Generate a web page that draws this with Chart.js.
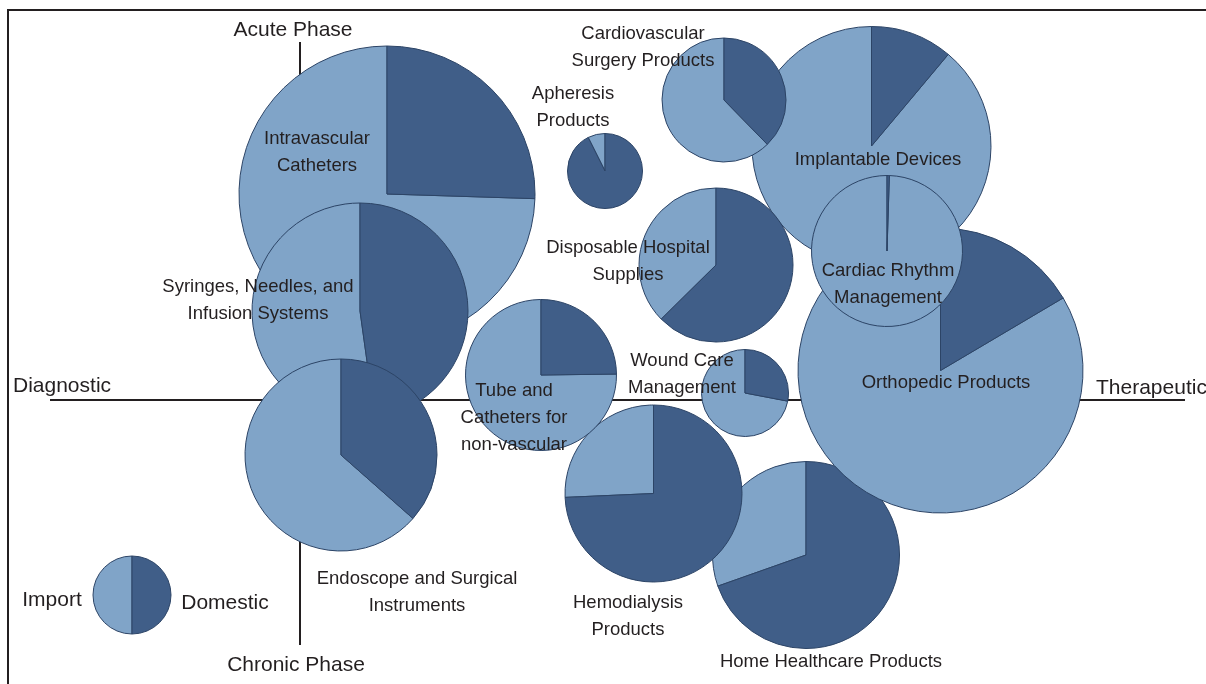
<!DOCTYPE html>
<html lang="en">
<head>
<meta charset="utf-8">
<title>Medical devices · import vs domestic</title>
<script src="https://cdn.jsdelivr.net/npm/chart.js@4.4.1/dist/chart.umd.min.js"></script>
<style>
  html, body { margin: 0; padding: 0; background: #fff; }
  .wrap { position: relative; width: 1206px; height: 684px; overflow: hidden; }
  .frame {
    position: absolute; left: 7px; top: 9px; right: -10px; bottom: -10px;
    border-top: 2px solid #231f20; border-left: 2px solid #231f20;
    pointer-events: none;
  }
  canvas { display: block; }
</style>
</head>
<body>
<div class="wrap">
  <canvas id="chart" width="1206" height="684"></canvas>
  <div class="frame"></div>
</div>
<script>
/* ---------- datos: posición (diagnóstico → terapéutico, crónico → agudo),
   tamaño del mercado (radio) y participación doméstica ---------- */
const categories = [
  "Intravascular Catheters",
  "Syringes, Needles, and Infusion Systems",
  "Endoscope and Surgical Instruments",
  "Tube and Catheters for non-vascular",
  "Apheresis Products",
  "Cardiovascular Surgery Products",
  "Disposable Hospital Supplies",
  "Wound Care Management",
  "Hemodialysis Products",
  "Home Healthcare Products",
  "Implantable Devices",
  "Cardiac Rhythm Management",
  "Orthopedic Products",
];
const posX = [0.87, 0.60, 0.41, 2.41, 3.05, 4.24, 4.16, 4.45, 3.535, 5.06, 5.715, 5.87, 6.405];
const posY = [2.06, 0.89, -0.55, 0.25, 2.29, 3.00, 1.35, 0.07, -0.935, -1.55, 2.54, 1.49, 0.295];
const marketSize = [1.48, 1.08, 0.96, 0.755, 0.375, 0.62, 0.77, 0.435, 0.885, 0.935, 1.195, 0.755, 1.425];
const domesticShare = [0.255, 0.478, 0.365, 0.248, 0.926, 0.377, 0.626, 0.28, 0.743, 0.696, 0.111, 0.005, 0.165];

// texto de cada etiqueta (en líneas) y su ancla en unidades de datos
const labelLines = [
  ["Intravascular", "Catheters"],
  ["Syringes, Needles, and", "Infusion Systems"],
  ["Endoscope and Surgical", "Instruments"],
  ["Tube and", "Catheters for", "non-vascular"],
  ["Apheresis", "Products"],
  ["Cardiovascular", "Surgery Products"],
  ["Disposable Hospital", "Supplies"],
  ["Wound Care", "Management"],
  ["Hemodialysis", "Products"],
  ["Home Healthcare Products"],
  ["Implantable Devices"],
  ["Cardiac Rhythm", "Management"],
  ["Orthopedic Products"],
];
const labelX = [0.17, -0.42, 1.17, 2.14, 2.73, 3.43, 3.28, 3.82, 3.28, 5.31, 5.78, 5.88, 6.46];
const labelY = [2.615, 1.135, -1.785, 0.095, 3.065, 3.665, 1.525, 0.395, -2.025, -2.615, 2.405, 1.295, 0.175];

// orden de dibujo (los de atrás primero)
const drawOrder = [0, 1, 2, 9, 8, 3, 10, 5, 6, 12, 11, 4, 7];

// ejes del cuadrante
const axisNames = ["Acute Phase", "Chronic Phase", "Diagnostic", "Therapeutic"];
const axisExtent = { top: 3.58, bottom: -2.45, left: -2.5, right: 8.85 };

// leyenda
const legendNames = ["Import", "Domestic"];
const legendPie = { x: -1.68, y: -1.95, r: 0.39, share: 0.5 };

const COLORS = {
  importFill: "#80a4c8",
  domesticFill: "#405e88",
  outline: "#2c4466",
  ink: "#231f20",
};
const FONT = "'Liberation Sans', Arial, Helvetica, sans-serif";

/* ---------- utilidades ---------- */
function drawPie(ctx, cx, cy, r, share) {
  const start = -Math.PI / 2;
  const mid = start + share * Math.PI * 2;
  ctx.save();
  ctx.lineWidth = 1;
  ctx.strokeStyle = COLORS.outline;
  ctx.lineJoin = "round";
  // importación
  ctx.beginPath();
  ctx.moveTo(cx, cy);
  ctx.arc(cx, cy, r, mid, start + Math.PI * 2);
  ctx.closePath();
  ctx.fillStyle = COLORS.importFill;
  ctx.fill();
  ctx.stroke();
  // doméstico
  ctx.beginPath();
  ctx.moveTo(cx, cy);
  ctx.arc(cx, cy, r, start, mid);
  ctx.closePath();
  ctx.fillStyle = COLORS.domesticFill;
  ctx.fill();
  ctx.stroke();
  ctx.restore();
}

const quadrantPies = {
  id: "quadrantPies",
  beforeDatasetsDraw(chart) {
    const { ctx, scales: { x, y } } = chart;
    ctx.save();
    ctx.strokeStyle = COLORS.ink;
    ctx.lineWidth = 2;
    ctx.beginPath();
    ctx.moveTo(x.getPixelForValue(0), y.getPixelForValue(axisExtent.top));
    ctx.lineTo(x.getPixelForValue(0), y.getPixelForValue(axisExtent.bottom));
    ctx.moveTo(x.getPixelForValue(axisExtent.left), y.getPixelForValue(0));
    ctx.lineTo(x.getPixelForValue(axisExtent.right), y.getPixelForValue(0));
    ctx.stroke();
    ctx.restore();
  },
  afterDatasetsDraw(chart) {
    const { ctx, scales: { x, y } } = chart;
    const unit = x.getPixelForValue(1) - x.getPixelForValue(0);

    drawOrder.forEach((i) => {
      drawPie(ctx, x.getPixelForValue(posX[i]), y.getPixelForValue(posY[i]), marketSize[i] * unit, domesticShare[i]);
    });
    drawPie(ctx, x.getPixelForValue(legendPie.x), y.getPixelForValue(legendPie.y), legendPie.r * unit, legendPie.share);

    ctx.save();
    ctx.fillStyle = COLORS.ink;
    ctx.textBaseline = "middle";

    // etiquetas de categoría
    ctx.font = `18.5px ${FONT}`;
    ctx.textAlign = "center";
    labelLines.forEach((lines, i) => {
      const lx = x.getPixelForValue(labelX[i]);
      const ly = y.getPixelForValue(labelY[i]);
      lines.forEach((t, k) => ctx.fillText(t, lx, ly + k * 27));
    });

    // nombres de ejes
    ctx.font = `21px ${FONT}`;
    ctx.fillText(axisNames[0], x.getPixelForValue(-0.07), y.getPixelForValue(3.70));
    ctx.fillText(axisNames[1], x.getPixelForValue(-0.04), y.getPixelForValue(-2.655));
    ctx.textAlign = "left";
    ctx.fillText(axisNames[2], x.getPixelForValue(-2.87), y.getPixelForValue(0.14));
    ctx.fillText(axisNames[3], x.getPixelForValue(7.96), y.getPixelForValue(0.115));

    // leyenda
    ctx.textAlign = "center";
    ctx.fillText(legendNames[0], x.getPixelForValue(-2.48), y.getPixelForValue(-2.0));
    ctx.fillText(legendNames[1], x.getPixelForValue(-0.75), y.getPixelForValue(-2.03));
    ctx.restore();
  },
};

new Chart(document.getElementById("chart"), {
  type: "scatter",
  data: {
    labels: categories,
    datasets: [
      {
        data: categories.map((c, i) => ({ x: posX[i], y: posY[i] })),
        pointRadius: 0,
        pointHoverRadius: 0,
      },
    ],
  },
  options: {
    responsive: false,
    animation: false,
    events: [],
    layout: { padding: 0 },
    plugins: { legend: { display: false }, tooltip: { enabled: false } },
    scales: {
      x: { type: "linear", min: -3, max: 9.06, display: false },
      y: { type: "linear", min: -2.84, max: 4, display: false },
    },
  },
  plugins: [quadrantPies],
});
</script>
</body>
</html>
